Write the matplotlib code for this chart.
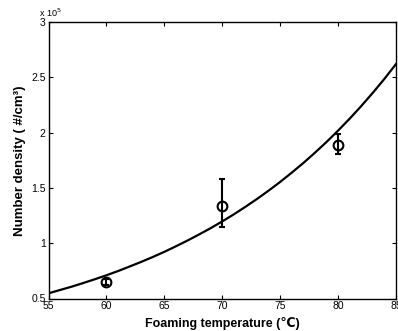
import matplotlib
matplotlib.use("Agg")
import matplotlib.pyplot as plt

# Measured points
temps = [60, 70, 80]
density = [0.65, 1.34, 1.89]          # x 10^5
err_low = [0.03, 0.19, 0.08]
err_high = [0.03, 0.24, 0.10]

# Fitted curve
curve_t = [55, 56, 57, 58, 59, 60, 61, 62, 63, 64, 65, 66, 67, 68, 69, 70,
           71, 72, 73, 74, 75, 76, 77, 78, 79, 80, 81, 82, 83, 84, 85]
curve_d = [0.547, 0.577, 0.607, 0.640, 0.674, 0.710, 0.748, 0.789, 0.831, 0.875,
           0.922, 0.972, 1.024, 1.079, 1.136, 1.197, 1.261, 1.329, 1.400, 1.475,
           1.554, 1.638, 1.725, 1.818, 1.915, 2.018, 2.126, 2.240, 2.360, 2.486, 2.620]

xticks = [55, 60, 65, 70, 75, 80, 85]
yticks = [0.5, 1, 1.5, 2, 2.5, 3]
ytick_labels = ["0.5", "1", "1.5", "2", "2.5", "3"]

plt.rcParams['font.family'] = ['Liberation Sans', 'DejaVu Sans']

fig = plt.figure(figsize=(3.98, 3.31), dpi=100)
ax = fig.add_axes([48.5/398, 1 - 298.5/331, (396 - 48.5)/398, (298.5 - 22)/331])

ax.plot(curve_t, curve_d, color='black', lw=1.6)
ax.errorbar(temps, density, yerr=[err_low, err_high], fmt='o', mfc='none',
            mec='black', ecolor='black', color='black', ms=7, mew=1.5,
            elinewidth=1.5, capsize=2.5, capthick=1.5)

ax.set_xlim(55, 85)
ax.set_ylim(0.5, 3)
ax.set_xticks(xticks)
ax.set_yticks(yticks)
ax.set_yticklabels(ytick_labels)
ax.tick_params(direction='in', top=True, right=True, labelsize=7.5, length=3, pad=2)
for s in ax.spines.values():
    s.set_linewidth(1.0)

ax.text(-0.027, 1.01, r"x 10$^5$", transform=ax.transAxes, fontsize=6.5, ha='left', va='bottom')

ax.set_xlabel("Foaming temperature (℃)", fontsize=9, fontweight='bold', labelpad=4)
ax.set_ylabel("Number density ( #/cm³)", fontsize=9.5, fontweight='bold', labelpad=4)

fig.savefig("out.png", dpi=100)
